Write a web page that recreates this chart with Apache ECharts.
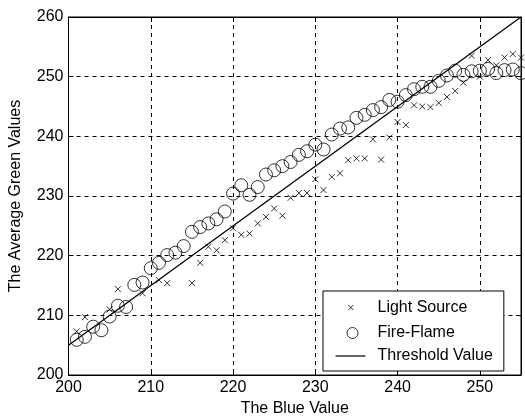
<!DOCTYPE html>
<html>
<head>
<meta charset="utf-8">
<script src="https://cdn.jsdelivr.net/npm/echarts@6/dist/echarts.min.js"></script>
<style>
html, body { margin: 0; padding: 0; background: #fff; }
#chartArea { width: 525px; height: 418px; }
</style>
</head>
<body>
<div id="chartArea"></div>
<script>
// Light Source points [blue, avg green]
var lightSource = [
    [201, 207.3], [202, 209.7], [205, 211.0], [206, 214.4], [209, 213.7],
    [211, 215.9], [212, 215.4], [215, 215.4], [216, 218.8], [217, 221.5],
    [218, 220.9], [219, 222.6], [220, 224.6], [221, 223.5], [222, 223.7],
    [223, 225.4], [224, 226.5], [225, 227.9], [226, 226.7], [227, 229.7],
    [228, 230.5], [229, 230.5], [230, 232.8], [231, 231.0], [232, 233.2],
    [233, 233.8], [234, 236.0], [235, 236.3], [236, 236.3], [237, 239.5],
    [238, 236.1], [239, 239.8], [240, 242.4], [241, 241.9], [242, 245.2],
    [243, 245.0], [244, 244.9], [245, 245.6], [246, 246.6], [247, 247.6],
    [248, 249.0], [249, 253.5], [250, 250.0], [251, 252.8], [252, 251.9],
    [253, 253.2], [254, 253.8], [255, 253.2]
];

// Fire-Flame points
var fireFlame = [
    [201, 205.9], [202, 206.4], [203, 208.1], [204, 207.5], [205, 209.8],
    [206, 211.6], [207, 211.4], [208, 215.1], [209, 215.5], [210, 217.9],
    [211, 218.8], [212, 220.1], [213, 220.5], [214, 221.6], [215, 224.0],
    [216, 224.8], [217, 225.4], [218, 226.1], [219, 227.4], [220, 230.4],
    [221, 231.8], [222, 230.2], [223, 231.5], [224, 233.6], [225, 234.3],
    [226, 235.0], [227, 235.7], [228, 236.9], [229, 237.5], [230, 238.6],
    [231, 237.8], [232, 240.3], [233, 241.3], [234, 241.5], [235, 243.1],
    [236, 243.6], [237, 244.4], [238, 244.9], [239, 246.1], [240, 245.8],
    [241, 246.9], [242, 247.9], [243, 248.3], [244, 248.3], [245, 249.3],
    [246, 250.2], [247, 251.0], [248, 250.3], [249, 250.9], [250, 251.0],
    [251, 251.3], [252, 250.6], [253, 251.1], [254, 251.2], [255, 250.6]
];

// threshold line end points
var threshold = [[200, 205], [255, 260]];

var xTicks = [200, 210, 220, 230, 240, 250];
var yTicks = [200, 210, 220, 230, 240, 250, 260];

var crossPath = 'path://M0,0L10,10M10,0L0,10';
// legend icons: leading moves pin the box to 37x16 so the marks keep their size
var legCross = 'path://M0,0M37,16M12.8,5.5L17.8,10.5M17.8,5.5L12.8,10.5';
var legCircle = 'path://M0,0M37,16M22.5,8A5.5,5.5,0,1,1,11.5,8A5.5,5.5,0,1,1,22.5,8Z';
var legLine = 'path://M0,0M37,16M0,7.4H30V8.6H0Z';
var fontName = '"Liberation Sans", Arial, sans-serif';

var chartDom = document.getElementById('chartArea');
var myChart = echarts.init(chartDom);
var option;

function dashed() {
    return { show: true, lineStyle: { color: '#000', type: [4, 4], width: 1 } };
}
var tickIn = { show: true, inside: true, length: 5, lineStyle: { color: '#000' } };
var blackLine = { show: true, lineStyle: { color: '#000' } };

option = {
    animation: false,
    backgroundColor: '#fff',
    grid: {
        left: 68.5, right: 4, top: 17, bottom: 43,
        outerBoundsMode: 'none',
        show: true, borderColor: '#000', borderWidth: 1
    },
    xAxis: [{
        type: 'value',
        min: xTicks[0], max: 255, interval: 10,
        name: 'The Blue Value',
        nameLocation: 'middle', nameGap: 26,
        nameTextStyle: { color: '#000', fontSize: 16, fontFamily: fontName },
        axisLine: blackLine,
        axisTick: tickIn,
        axisLabel: {
            color: '#000', fontSize: 16, fontFamily: fontName, margin: 5,
            formatter: function (v) { return xTicks.indexOf(v) >= 0 ? String(v) : ''; }
        },
        splitLine: dashed()
    }, {
        type: 'value', position: 'top',
        min: xTicks[0], max: 255, interval: 10,
        axisLine: blackLine, axisTick: tickIn,
        axisLabel: { show: false }, splitLine: { show: false }
    }],
    yAxis: [{
        type: 'value',
        min: yTicks[0], max: yTicks[yTicks.length - 1], interval: 10,
        name: 'The Average Green Values',
        nameLocation: 'middle', nameGap: 45, nameRotate: 90,
        nameTextStyle: { color: '#000', fontSize: 16, fontFamily: fontName },
        axisLine: blackLine,
        axisTick: tickIn,
        axisLabel: { color: '#000', fontSize: 16, fontFamily: fontName, margin: 5 },
        splitLine: dashed()
    }, {
        type: 'value', position: 'right',
        min: yTicks[0], max: yTicks[yTicks.length - 1], interval: 10,
        axisLine: blackLine, axisTick: tickIn,
        axisLabel: { show: false }, splitLine: { show: false }
    }],
    legend: {
        orient: 'vertical',
        left: 323, top: 291,
        backgroundColor: '#fff',
        borderColor: '#000', borderWidth: 1,
        padding: [6, 11, 7, 10],
        itemGap: 4.5, itemWidth: 37, itemHeight: 16,
        textStyle: { color: '#000', fontSize: 16, fontFamily: fontName },
        data: [
            { name: 'Light Source', icon: legCross, itemStyle: { color: 'none', borderColor: '#000', borderWidth: 1 } },
            { name: 'Fire-Flame', icon: legCircle, itemStyle: { color: 'none', borderColor: '#000', borderWidth: 1 } },
            { name: 'Threshold Value', icon: legLine, itemStyle: { color: '#000', borderWidth: 0 } }
        ]
    },
    series: [
        {
            name: 'Light Source',
            type: 'scatter',
            data: lightSource,
            symbol: crossPath,
            symbolSize: 6,
            itemStyle: { color: 'none', borderColor: '#000', borderWidth: 1 },
            z: 3
        },
        {
            name: 'Fire-Flame',
            type: 'scatter',
            data: fireFlame,
            symbol: 'circle',
            symbolSize: 13,
            itemStyle: { color: 'none', borderColor: '#000', borderWidth: 1 },
            z: 2
        },
        {
            name: 'Threshold Value',
            type: 'line',
            data: threshold,
            showSymbol: false,
            symbol: 'none',
            lineStyle: { color: '#000', width: 1.3 },
            itemStyle: { color: '#000' },
            z: 4
        }
    ]
};

option && myChart.setOption(option);
</script>
</body>
</html>
